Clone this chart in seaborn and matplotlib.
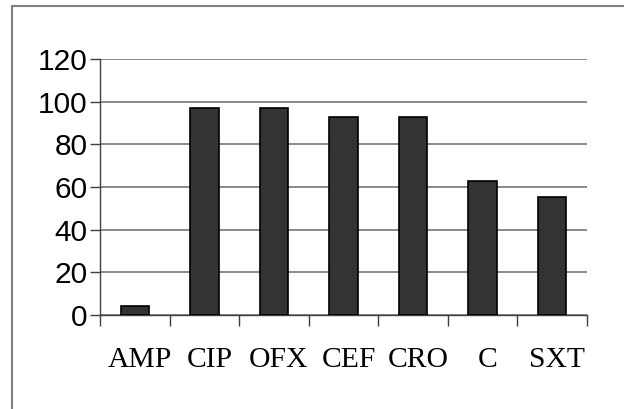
import matplotlib
matplotlib.use("Agg")
import matplotlib.pyplot as plt
import matplotlib.transforms as mtransforms
import seaborn as sns
import pandas as pd
from matplotlib.patches import Rectangle

categories = ["AMP", "CIP", "OFX", "CEF", "CRO", "C", "SXT"]
values = [4.1, 96.8, 96.8, 93.0, 93.0, 62.8, 55.3]
yticks = [0, 20, 40, 60, 80, 100, 120]

sns.set_theme(style="white")
plt.rcParams['font.family'] = ['Liberation Sans', 'DejaVu Sans']

W, H = 624, 409
fig = plt.figure(figsize=(W / 100, H / 100), dpi=100)
fig.patch.set_facecolor("white")
ax = fig.add_axes([100 / W, (H - 315) / H, (587 - 100) / W, (315 - 59) / H])

df = pd.DataFrame({"cat": categories, "val": values})
sns.barplot(data=df, x="cat", y="val", ax=ax, color="#333333", saturation=1,
            width=0.41, edgecolor="black", linewidth=1.2, zorder=3)

ax.set_xlim(-0.5, len(categories) - 0.5)
ax.set_ylim(0, 120)
ax.set_yticks(yticks)
ax.set_yticklabels([str(t) for t in yticks], fontsize=21.5, fontfamily="Liberation Sans", color="black")
ax.yaxis.grid(True, color="#808080", linewidth=1.3, zorder=0)
ax.set_axisbelow(True)
ax.set_xlabel("")
ax.set_ylabel("")

ax.set_xticks(range(len(categories)))
ax.set_xticklabels(categories, fontsize=21.3, fontfamily="Liberation Serif", color="black")
ax.set_xticks([i - 0.5 for i in range(len(categories) + 1)], minor=True)
ax.tick_params(axis="x", which="major", length=0, pad=23)
ax.tick_params(axis="x", which="minor", length=8, width=1, color="#404040", direction="out", bottom=True)
ax.tick_params(axis="y", which="major", length=7, width=1, color="#404040", direction="out", left=True, pad=2)

offset = mtransforms.ScaledTranslation(5 / 100, 0, fig.dpi_scale_trans)
for lab in ax.get_xticklabels():
    lab.set_transform(lab.get_transform() + offset)

for s in ["top", "right"]:
    ax.spines[s].set_visible(False)
for s in ["left", "bottom"]:
    ax.spines[s].set_visible(True)
    ax.spines[s].set_color("#404040")
    ax.spines[s].set_linewidth(1.0)

fig.patches.append(Rectangle((12 / W, -0.1), 1.2, (H - 6) / H + 0.1, transform=fig.transFigure,
                             fill=False, edgecolor="#808080", linewidth=1.5, zorder=0))

fig.savefig("out.png", dpi=100, facecolor="white")
